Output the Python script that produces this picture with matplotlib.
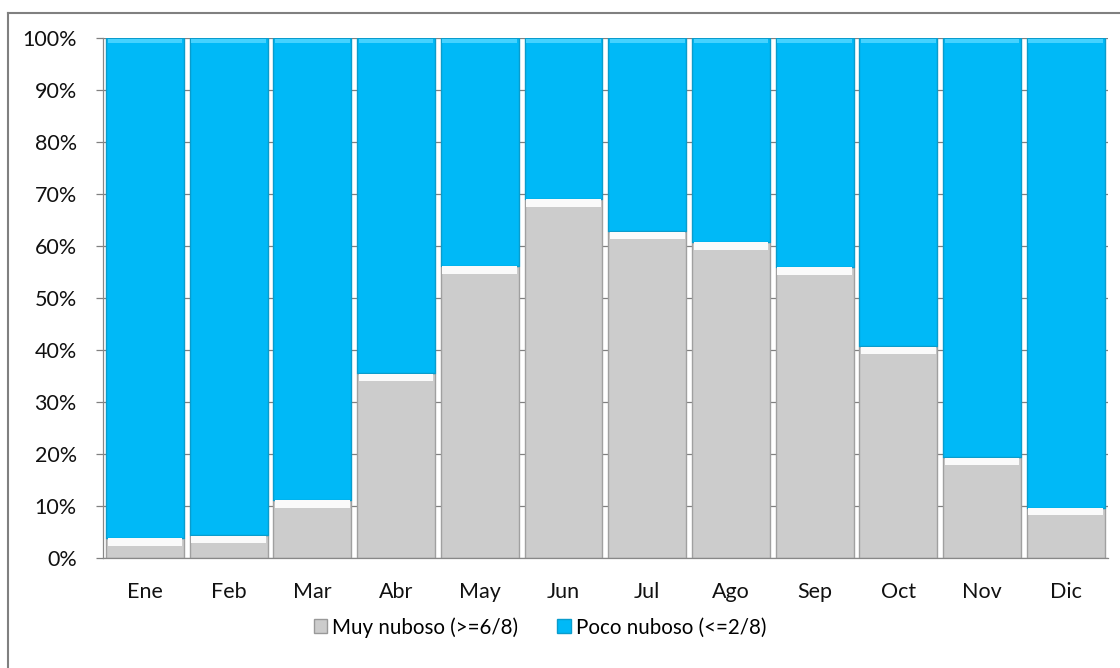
import numpy as np
import matplotlib.pyplot as plt
from matplotlib.lines import Line2D
from matplotlib.patches import Patch

# Data (percent of days per month)
meses = ["Ene", "Feb", "Mar", "Abr", "May", "Jun", "Jul", "Ago", "Sep", "Oct", "Nov", "Dic"]
muy_nuboso = [3.9, 4.4, 11.2, 35.5, 56.2, 69.1, 62.8, 60.8, 56.0, 40.7, 19.4, 9.7]
poco_nuboso = [100 - v for v in muy_nuboso]

gris = "#cccccc"
azul = "#00b9f7"

plt.rcParams['font.family'] = ['Lato', 'DejaVu Sans']

fig = plt.figure(figsize=(11.2, 6.68), dpi=100)
ax = fig.add_axes([0.092, 0.1647, 0.897, 0.7783])

x = np.arange(len(meses))
w = 0.93

# gridlines behind the bars (visible only in the gaps)
ax.set_axisbelow(True)
ax.yaxis.grid(True, color="#808080", linewidth=0.9)

ax.bar(x, muy_nuboso, width=w, color=gris, edgecolor="#a0a0a0", linewidth=1.0, zorder=2)
ax.bar(x, poco_nuboso, width=w, bottom=muy_nuboso, color=azul, edgecolor="#0a9ccc",
       linewidth=1.0, zorder=2)

# bevel highlights on top of each segment
ax.bar(x, [1.4] * len(x), width=w * 0.96, bottom=[v - 1.5 for v in muy_nuboso],
       color="#fafafa", linewidth=0, zorder=3)
ax.bar(x, [0.8] * len(x), width=w * 0.96, bottom=[99.1] * len(x),
       color="#45d2ff", linewidth=0, zorder=3)

ax.set_xlim(-0.5, len(meses) - 0.5)
ax.set_ylim(0, 100)
ax.set_yticks(np.arange(0, 101, 10))
ax.set_yticklabels([f"{v}%" for v in range(0, 101, 10)], fontsize=15.5, color="#111111")
ax.set_xticks(x)
ax.set_xticklabels(meses, fontsize=15.5, color="#111111")
ax.tick_params(axis="x", length=0, pad=17)
ax.tick_params(axis="y", length=5, color="#808080", width=0.9, pad=14)

for s in ["top", "right"]:
    ax.spines[s].set_visible(False)
for s in ["left", "bottom"]:
    ax.spines[s].set_color("#888888")
    ax.spines[s].set_linewidth(0.9)

handles = [Patch(facecolor=gris, edgecolor="#999999", label="Muy nuboso (>=6/8)"),
           Patch(facecolor=azul, edgecolor="#0a9ccc", label="Poco nuboso (<=2/8)")]
fig.legend(handles=handles, loc="center", bbox_to_anchor=(0.482, 0.061), ncol=2,
           frameon=False, fontsize=14.8, handlelength=0.65, handleheight=0.65,
           handletextpad=0.25, columnspacing=1.9)

# outer chart border (left and top visible)
fig.add_artist(Line2D([8 / 1120, 8 / 1120], [0, 1 - 13 / 668], color="#808080", linewidth=1.5))
fig.add_artist(Line2D([8 / 1120, 1], [1 - 13 / 668, 1 - 13 / 668], color="#808080", linewidth=1.5))

fig.savefig("out.png", dpi=100)
